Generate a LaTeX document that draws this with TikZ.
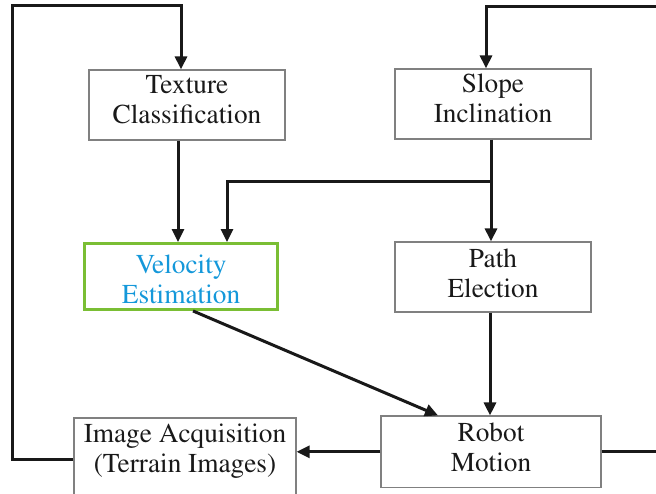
\documentclass[tikz,border=0pt]{standalone}
\usepackage[T1]{fontenc}
\renewcommand{\rmdefault}{ptm}
\usetikzlibrary{arrows.meta}
\definecolor{boxgray}{RGB}{128,128,128}
\definecolor{velgreen}{RGB}{122,190,52}
\definecolor{velblue}{RGB}{20,152,218}
\definecolor{ink}{RGB}{25,25,25}
\tikzset{
  block/.style={draw=boxgray, line width=1.2pt, fill=white, align=center,
    inner sep=0pt, font=\rmfamily\fontsize{27.3}{30}\selectfont, text=ink},
  flow/.style={line width=3pt, draw=ink, -{Triangle[length=13pt,width=12pt]}},
}
% invisible struts that set the depth of the last line / height of the first line
\newcommand{\lastdepth}[1]{\rule[-#1pt]{0pt}{#1pt}}
\newcommand{\firstheight}[1]{\rule{0pt}{#1pt}}

\begin{document}
\begin{tikzpicture}[x=1pt,y=-1pt]
\useasboundingbox (0,0) rectangle (656,494);
\clip (0,0) rectangle (656,494);

% blocks
\node[block, minimum width=196pt, minimum height=70pt] (tex) at (187,105)
  {Texture\\Classification\lastdepth{10}};
\node[block, minimum width=196pt, minimum height=70pt] (slope) at (493,104)
  {Slope\\Inclination\lastdepth{10.6}};
\node[block, draw=velgreen, line width=3.3pt, text=velblue,
  minimum width=193pt, minimum height=65.6pt] (vel) at (181,276.5)
  {\firstheight{24}Velocity\\Estimation};
\node[block, minimum width=196pt, minimum height=70pt] (path) at (493,277)
  {Path\\Election\lastdepth{7.2}};
\node[block, minimum width=220pt, minimum height=71.5pt] (robot) at (491,451.8)
  {Robot\\Motion\lastdepth{8.8}};
\node[block, minimum width=222pt, minimum height=82pt] (img) at (185,459)
  {Image Acquisition\\(Terrain Images)\lastdepth{21.2}};

% bend points of the feedback loops and branch points
\coordinate (tl) at (12,5.5);
\coordinate (tr) at (181,5.5);
\coordinate (rr) at (670,7);
\coordinate (rs) at (486,7);
\coordinate (ta) at (178,0);
\coordinate (sa) at (491,0);
\coordinate (br) at (491,182);
\coordinate (bl) at (227,182);
\coordinate (vs) at (193,0);
\coordinate (rt) at (438,0);
\coordinate (pa) at (490,0);

% connectors
\draw[flow] (img.west) -- (img.west -| tl) -- (tl) -- (tr) -- (tr |- tex.north);
\draw[flow] (robot.east) -- (robot.east -| rr) -- (rr) -- (rs) -- (rs |- slope.north);
\draw[flow] (ta |- tex.south) -- (ta |- vel.north);
\draw[flow] (sa |- slope.south) -- (sa |- path.north);
\draw[flow] (br) -- (bl) -- (bl |- vel.north);
\draw[flow] (vs |- vel.south) -- (rt |- robot.north);
\draw[flow] (pa |- path.south) -- (pa |- robot.north);
\draw[flow] (robot.west) -- (robot.west -| img.east);
\end{tikzpicture}
\end{document}
